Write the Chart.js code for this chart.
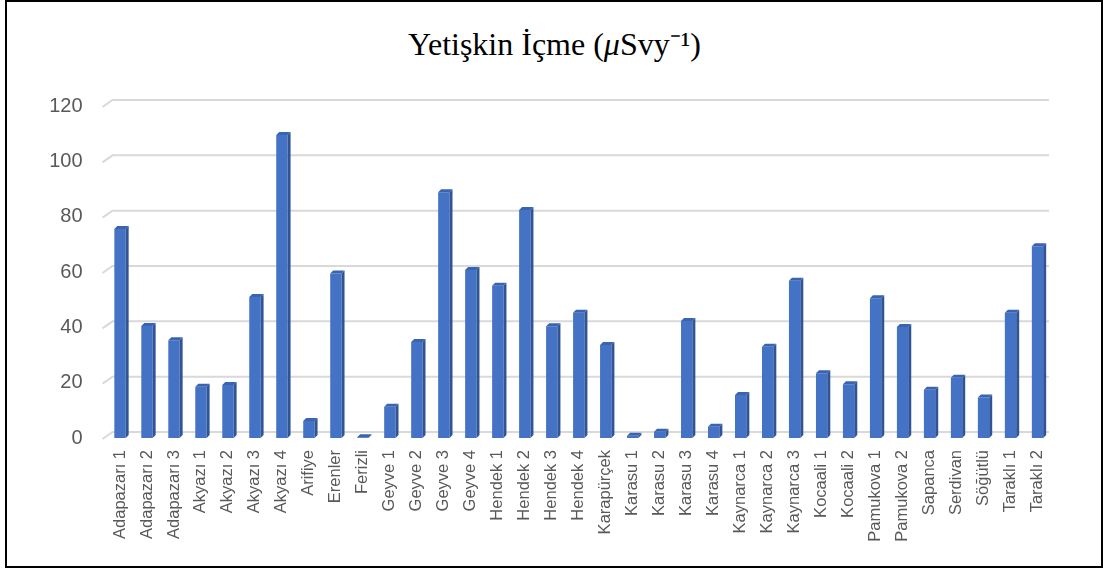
<!DOCTYPE html>
<html>
<head>
<meta charset="utf-8">
<script src="https://cdn.jsdelivr.net/npm/chart.js@4.4.1/dist/chart.umd.min.js"></script>
<style>
  html, body { margin: 0; padding: 0; background: #fff; }
  #wrap { position: relative; width: 1103px; height: 570px; }
  #frame { position: absolute; left: 5px; top: 0px; width: 1094px; height: 564px; border: 2px solid #000; }
  #title {
    position: absolute; left: 3px; top: 21px; width: 1103px; text-align: center;
    font-family: "Liberation Serif", "Times New Roman", serif; font-size: 32px; color: #000;
  }
  canvas { position: absolute; left: 0; top: 0; }
</style>
</head>
<body>
<div id="wrap">
  <div id="frame"></div>
  <div id="title">Yetişkin İçme (<i>μ</i>Svy⁻¹)</div>
  <canvas id="chart" width="1103" height="570"></canvas>
</div>
<script>
// data
const stations = [
  'Adapazarı 1', 'Adapazarı 2', 'Adapazarı 3', 'Akyazı 1', 'Akyazı 2', 'Akyazı 3', 'Akyazı 4',
  'Arifiye', 'Erenler', 'Ferizli', 'Geyve 1', 'Geyve 2', 'Geyve 3', 'Geyve 4',
  'Hendek 1', 'Hendek 2', 'Hendek 3', 'Hendek 4', 'Karapürçek', 'Karasu 1', 'Karasu 2',
  'Karasu 3', 'Karasu 4', 'Kaynarca 1', 'Kaynarca 2', 'Kaynarca 3', 'Kocaali 1', 'Kocaali 2',
  'Pamukova 1', 'Pamukova 2', 'Sapanca', 'Serdivan', 'Söğütlü', 'Taraklı 1', 'Taraklı 2'
];
const doseValues = [
  75.5, 40.5, 35.3, 18.5, 19.2, 51, 109.5,
  6.1, 59.5, 0.3, 11.3, 34.7, 88.8, 60.7,
  55, 82.4, 40.4, 45.3, 33.6, 0.8, 2.3,
  42.3, 4.1, 15.5, 33, 56.8, 23.4, 19.4,
  50.5, 40.1, 17.4, 21.8, 14.6, 45.3, 69.3
];
const yTicks = [0, 20, 40, 60, 80, 100, 120];

const DEPTH_X = 3, DEPTH_Y = 3;

// back-wall gridlines with the short slanted floor edge on the left
const gridPlugin = {
  id: 'grid3d',
  beforeDatasetsDraw(chart) {
    const { ctx, chartArea, scales } = chart;
    ctx.save();
    ctx.strokeStyle = '#d9d9d9';
    ctx.lineWidth = 2;
    yTicks.forEach(v => {
      const y = scales.y.getPixelForValue(v);
      ctx.beginPath();
      ctx.moveTo(chartArea.left - 4, y + 1);
      ctx.lineTo(chartArea.left + 6, y - 6);
      ctx.lineTo(chartArea.right - 2, y - 6);
      ctx.stroke();
    });
    ctx.restore();
  }
};

// side and top faces for the columns
const barFacesPlugin = {
  id: 'barFaces',
  afterDatasetsDraw(chart) {
    const { ctx } = chart;
    const meta = chart.getDatasetMeta(0);
    ctx.save();
    meta.data.forEach(bar => {
      const half = bar.width / 2;
      const l = bar.x - half, r = bar.x + half;
      const t = bar.y, b = bar.base;
      ctx.fillStyle = '#2f5597';
      ctx.beginPath();
      ctx.moveTo(r, t);
      ctx.lineTo(r + DEPTH_X, t - DEPTH_Y);
      ctx.lineTo(r + DEPTH_X, b - DEPTH_Y);
      ctx.lineTo(r, b);
      ctx.closePath();
      ctx.fill();
      ctx.fillStyle = '#3a64b0';
      ctx.beginPath();
      ctx.moveTo(l, t);
      ctx.lineTo(l + DEPTH_X, t - DEPTH_Y);
      ctx.lineTo(r + DEPTH_X, t - DEPTH_Y);
      ctx.lineTo(r, t);
      ctx.closePath();
      ctx.fill();
    });
    ctx.restore();
  }
};

new Chart(document.getElementById('chart'), {
  type: 'bar',
  data: {
    labels: stations,
    datasets: [{
      data: doseValues,
      backgroundColor: '#4472c4',
      borderWidth: 0,
      barPercentage: 0.42,
      categoryPercentage: 1
    }]
  },
  options: {
    responsive: false,
    animation: false,
    layout: { padding: { left: 0, right: 52, top: 106, bottom: 0 } },
    plugins: {
      legend: { display: false },
      title: { display: false },
      tooltip: { enabled: false }
    },
    scales: {
      x: {
        grid: { display: false, drawTicks: false },
        border: { display: false },
        ticks: {
          autoSkip: false,
          minRotation: 90,
          maxRotation: 90,
          padding: 12,
          color: '#595959',
          font: { family: '"Liberation Sans", Arial, sans-serif', size: 16.5 }
        },
        afterFit(scale) { scale.height = 132; }
      },
      y: {
        min: 0,
        max: 120,
        grid: { display: false, drawTicks: false },
        border: { display: false },
        afterBuildTicks(scale) { scale.ticks = yTicks.map(v => ({ value: v })); },
        ticks: {
          padding: 24,
          color: '#595959',
          font: { family: '"Liberation Sans", Arial, sans-serif', size: 20 }
        },
        afterFit(scale) { scale.width = 106.5; }
      }
    }
  },
  plugins: [gridPlugin, barFacesPlugin]
});
</script>
</body>
</html>
